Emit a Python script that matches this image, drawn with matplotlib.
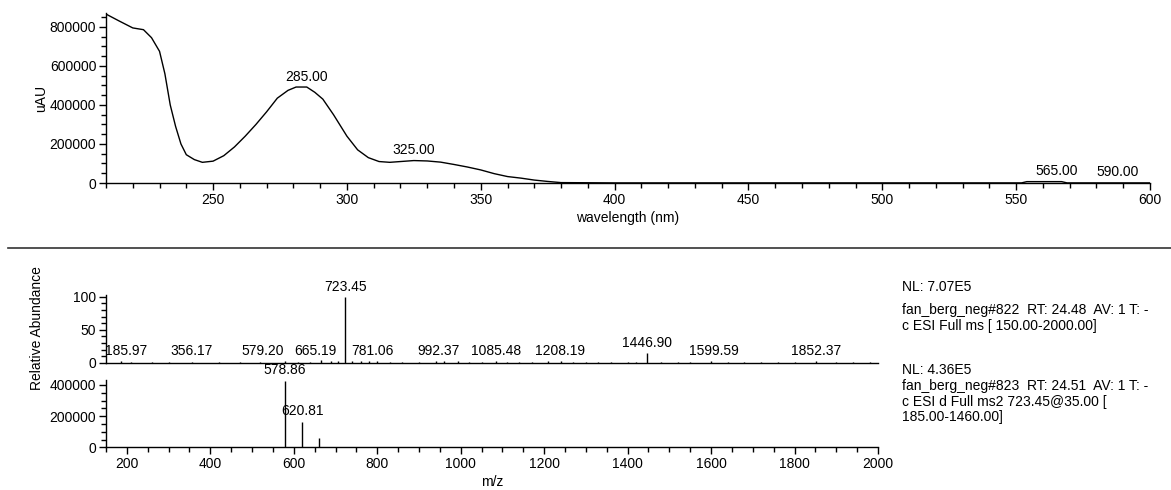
import matplotlib
matplotlib.use("Agg")
import matplotlib.pyplot as plt
from matplotlib.ticker import MultipleLocator

plt.rcParams['font.family'] = ['Liberation Sans', 'DejaVu Sans']

# ---------------- data ----------------
# UV spectrum (wavelength nm, uAU)
uv_wl = [210, 215, 220, 224, 227, 230, 232, 234, 236, 238, 240, 243, 246, 250,
         254, 258, 262, 266, 270, 274, 278, 281, 285, 288, 291, 295, 300, 304,
         308, 312, 316, 320, 325, 330, 335, 340, 345, 350, 355, 360, 365, 370,
         375, 380, 400, 450, 500, 552, 554, 567, 569, 590, 600]
uv_abs = [866000, 830000, 795000, 786000, 745000, 675000, 560000, 400000,
          290000, 200000, 145000, 120000, 106000, 112000, 140000, 185000,
          240000, 300000, 365000, 435000, 475000, 492000, 492000, 465000,
          430000, 350000, 240000, 170000, 130000, 110000, 106000, 110000,
          115000, 113000, 107000, 95000, 82000, 67000, 48000, 33000, 25000,
          15000, 8000, 2000, 500, 500, 500, 500, 7000, 7000, 500, 500, 500]
uv_labels = [285.00, 325.00, 565.00, 590.00]

# Full MS (relative abundance)
ms1_mz = [185.97, 356.17, 579.20, 665.19, 723.45, 781.06, 992.37, 1085.48,
          1208.19, 1446.90, 1599.59, 1852.37,
          210, 260, 300, 420, 470, 520, 610, 640, 690, 705, 740, 760, 800, 830,
          860, 900, 940, 960, 1020, 1050, 1110, 1140, 1170, 1240, 1270, 1300,
          1330, 1360, 1400, 1420, 1480, 1520, 1550, 1640, 1680, 1720, 1760,
          1800, 1900, 1940, 1980]
ms1_int = [3, 1.5, 3, 3.5, 100, 3, 3, 2, 3, 15, 2, 2,
           1, 0.8, 0.8, 0.8, 1, 1, 1.5, 1.5, 2.5, 2, 2.5, 2, 2, 1.5,
           1.5, 1.5, 2, 2, 1.5, 1.5, 1.5, 1.5, 1.5, 2, 1.5, 1.5,
           1.5, 1.5, 1.5, 1.5, 1.5, 1.5, 1.5, 1.5, 1.5, 1.5, 1.5,
           1.5, 1.5, 1.5, 1.5]
ms1_labels = [185.97, 356.17, 579.20, 665.19, 723.45, 781.06, 992.37, 1085.48,
              1208.19, 1446.90, 1599.59, 1852.37]

# MS2 of 723.45 (absolute intensity)
ms2_mz = [578.86, 620.81, 661.0]
ms2_int = [425000, 162000, 57000]
ms2_labels = [578.86, 620.81]

info1 = ["NL: 7.07E5",
         "fan_berg_neg#822  RT: 24.48  AV: 1 T: -",
         "c ESI Full ms [ 150.00-2000.00]"]
info2 = ["NL: 4.36E5",
         "fan_berg_neg#823  RT: 24.51  AV: 1 T: -",
         "c ESI d Full ms2 723.45@35.00 [",
         "185.00-1460.00]"]

# ---------------- figure ----------------
W, H = 1171, 490
fig = plt.figure(figsize=(W / 100, H / 100), dpi=100)
FS = 10


def frac(x0, y_top, x1, y_bot):
    return [x0 / W, 1 - y_bot / H, (x1 - x0) / W, (y_bot - y_top) / H]


def style(ax):
    for s in ['top', 'right']:
        ax.spines[s].set_visible(False)
    for s in ['left', 'bottom']:
        ax.spines[s].set_linewidth(1.0)
    ax.tick_params(which='major', direction='out', length=5, width=1,
                   labelsize=FS, pad=2)
    ax.tick_params(which='minor', direction='out', length=3.5, width=1)


# UV panel
ax1 = fig.add_axes(frac(106, 13.3, 1150, 183))
ax1.plot(uv_wl, uv_abs, color='black', lw=1.0)
ax1.set_xlim(210, 600)
ax1.set_ylim(0, 870000)
style(ax1)
ax1.xaxis.set_major_locator(MultipleLocator(50))
ax1.xaxis.set_minor_locator(MultipleLocator(10))
ax1.yaxis.set_major_locator(MultipleLocator(200000))
ax1.yaxis.set_minor_locator(MultipleLocator(50000))
ax1.set_xlabel('wavelength (nm)', fontsize=FS, labelpad=3)
ax1.set_ylabel('uAU', fontsize=FS, labelpad=1)
uv_offsets = {590.00: -4}
for lab in uv_labels:
    yv = 0
    for i in range(len(uv_wl) - 1):
        if uv_wl[i] <= lab <= uv_wl[i + 1]:
            t = (lab - uv_wl[i]) / (uv_wl[i + 1] - uv_wl[i])
            yv = uv_abs[i] + t * (uv_abs[i + 1] - uv_abs[i])
    ax1.annotate(f'{lab:.2f}', (lab, yv), xytext=(uv_offsets.get(lab, 0), 2.5),
                 textcoords='offset points', ha='center', va='bottom', fontsize=FS)

# separator line
fig.add_artist(plt.Line2D([8 / W, 1.0], [1 - 248 / H, 1 - 248 / H],
                          color='#333333', lw=1.2))

# MS full panel
ax2 = fig.add_axes(frac(106, 295.4, 878, 362.7))
ax2.vlines(ms1_mz, 0, ms1_int, color='black', lw=1.0)
ax2.set_xlim(150, 2000)
ax2.set_ylim(0, 102)
style(ax2)
ax2.set_xticks([])
ax2.yaxis.set_major_locator(MultipleLocator(50))
ax2.yaxis.set_minor_locator(MultipleLocator(10))
offsets1 = {185.97: 4, 579.20: -16, 665.19: -4, 781.06: 2, 992.37: -14,
            1208.19: 9, 1599.59: 2}
for lab in ms1_labels:
    yv = ms1_int[ms1_mz.index(lab)]
    ax2.annotate(f'{lab:.2f}', (lab, max(yv, 3)), xytext=(offsets1.get(lab, 0), 2),
                 textcoords='offset points', ha='center', va='bottom', fontsize=FS)

# MS2 panel
ax3 = fig.add_axes(frac(106, 380.3, 878, 447.3))
ax3.vlines(ms2_mz, 0, ms2_int, color='black', lw=1.0)
ax3.set_xlim(150, 2000)
ax3.set_ylim(0, 430000)
style(ax3)
ax3.xaxis.set_major_locator(MultipleLocator(200))
ax3.xaxis.set_minor_locator(MultipleLocator(50))
ax3.yaxis.set_major_locator(MultipleLocator(200000))
ax3.yaxis.set_minor_locator(MultipleLocator(50000))
ax3.set_xlabel('m/z', fontsize=FS, labelpad=3)
for lab in ms2_labels:
    yv = ms2_int[ms2_mz.index(lab)]
    ax3.annotate(f'{lab:.2f}', (lab, yv), xytext=(0, 3), textcoords='offset points',
                 ha='center', va='bottom', fontsize=FS)

fig.text(37 / W, 1 - 328 / H, 'Relative Abundance', rotation=90, ha='center',
         va='center', fontsize=FS)

# info text
info1_y = [287, 310, 326]
info2_y = [370, 386, 402, 417]
for line, y in zip(info1, info1_y):
    fig.text(902 / W, 1 - y / H, line, fontsize=FS, ha='left', va='center')
for line, y in zip(info2, info2_y):
    fig.text(902 / W, 1 - y / H, line, fontsize=FS, ha='left', va='center')

fig.savefig('out.png', dpi=100)
